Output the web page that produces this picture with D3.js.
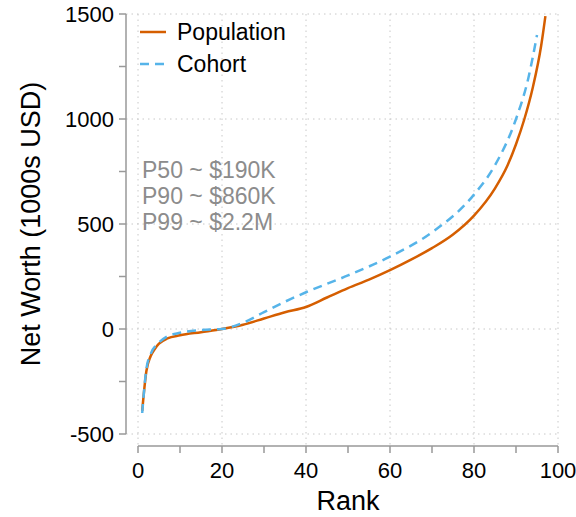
<!DOCTYPE html>
<html><head><meta charset="utf-8">
<script src="https://cdn.jsdelivr.net/npm/d3@7"></script>
<style>body{margin:0;background:#fff}text{font-family:"Liberation Sans",Arial,sans-serif}</style>
</head><body><svg id="c" width="576" height="517"></svg>
<script>
const popRank = [1,2,3,4,5,7,10,15,20,25,30,35,40,45,50,55,60,65,70,75,80,85,88,90,92,94,96,97];
const popWorth = [-390,-200,-130,-95,-70,-45,-30,-15,0,20,50,80,105,150,195,235,280,330,385,450,540,670,780,880,1000,1150,1350,1490];
const cohRank = [1,2,3,5,7,10,15,20,25,30,35,40,50,60,70,80,85,90,93,95];
const cohWorth = [-400,-190,-120,-65,-35,-18,-5,0,30,80,130,175,255,345,460,640,780,1000,1200,1400];
const xTicks = [0,20,40,60,80,100];
const yTicks = [-500,0,500,1000,1500];
const notes = ["P50 ~ $190K","P90 ~ $860K","P99 ~ $2.2M"];

const svg = d3.select('#c');
const x = d3.scaleLinear().domain([0,100]).range([138,558]);
const y = d3.scaleLinear().domain([-500,1500]).range([434,14]);
const axL = 126, axB = 446;
const grid = '#c8c8c8';

svg.selectAll('.gx').data(xTicks).join('line').attr('x1',d=>x(d)).attr('x2',d=>x(d)).attr('y1',y(1500)).attr('y2',axB)
  .attr('stroke',grid).attr('stroke-dasharray','1.5,4');
svg.selectAll('.gy').data(yTicks).join('line').attr('y1',d=>y(d)).attr('y2',d=>y(d)).attr('x1',axL).attr('x2',x(100))
  .attr('stroke',grid).attr('stroke-dasharray','1.5,4');

const ax = '#999';
svg.append('line').attr('x1',axL).attr('x2',axL).attr('y1',y(1500)).attr('y2',y(-500)).attr('stroke',ax).attr('stroke-width',1.5);
svg.append('line').attr('x1',x(0)).attr('x2',x(100)).attr('y1',axB).attr('y2',axB).attr('stroke',ax).attr('stroke-width',1.5);
const yAll = d3.range(-500,1501,250), xAll = d3.range(0,101,10);
svg.selectAll('.ty').data(yAll).join('line').attr('x1',axL-7).attr('x2',axL).attr('y1',d=>y(d)).attr('y2',d=>y(d)).attr('stroke',ax).attr('stroke-width',1.5);
svg.selectAll('.tx').data(xAll).join('line').attr('y1',axB).attr('y2',axB+7).attr('x1',d=>x(d)).attr('x2',d=>x(d)).attr('stroke',ax).attr('stroke-width',1.5);
svg.selectAll('.ly').data(yTicks).join('text').attr('x',axL-12).attr('y',d=>y(d)+8).attr('text-anchor','end').attr('font-size',22).text(d=>d);
svg.selectAll('.lx').data(xTicks).join('text').attr('x',d=>x(d)).attr('y',axB+32).attr('text-anchor','middle').attr('font-size',22).text(d=>d);
svg.append('text').attr('x',x(50)).attr('y',510).attr('text-anchor','middle').attr('font-size',27).text('Rank');
svg.append('text').attr('transform',`translate(40,${y(500)}) rotate(-90)`).attr('text-anchor','middle').attr('font-size',27).text('Net Worth (1000s USD)');

const line = d3.line().x(d=>x(d[0])).y(d=>y(d[1])).curve(d3.curveMonotoneX);
svg.append('path').attr('d',line(d3.zip(popRank,popWorth))).attr('fill','none').attr('stroke','#d55e00').attr('stroke-width',2.5);
svg.append('path').attr('d',line(d3.zip(cohRank,cohWorth))).attr('fill','none').attr('stroke','#56b4e9').attr('stroke-width',2.5).attr('stroke-dasharray','9,6');

const leg = [['Population','#d55e00',null],['Cohort','#56b4e9','9,6']];
leg.forEach((l,i)=>{
  const yy = 32+i*32;
  svg.append('line').attr('x1',140).attr('x2',166).attr('y1',yy).attr('y2',yy).attr('stroke',l[1]).attr('stroke-width',2.5).attr('stroke-dasharray',l[2]);
  svg.append('text').attr('x',177).attr('y',yy+8).attr('font-size',23).text(l[0]);
});
svg.selectAll('.nt').data(notes).join('text').attr('x',142).attr('y',(d,i)=>178+i*26).attr('font-size',23).attr('fill','#8c8c8c').text(d=>d);
</script></body></html>
